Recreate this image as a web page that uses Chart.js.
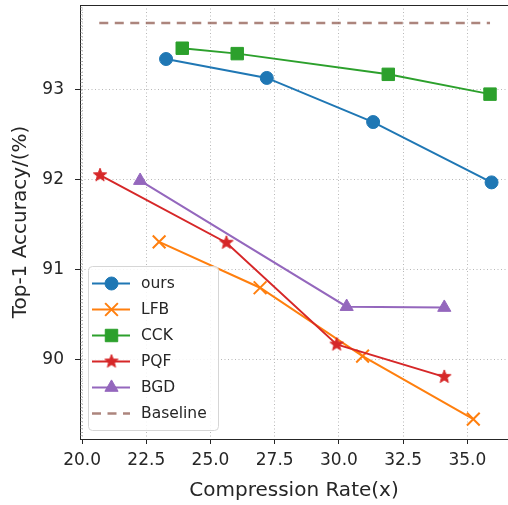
<!DOCTYPE html>
<html>
<head>
<meta charset="utf-8">
<script src="https://cdn.jsdelivr.net/npm/chart.js@4/dist/chart.umd.min.js"></script>
<style>
  html, body { margin: 0; padding: 0; background: #fff; }
  #wrap { width: 508px; height: 505px; position: relative; }
</style>
</head>
<body>
<div id="wrap"><canvas id="c" width="508" height="505"></canvas></div>
<script>
// ---- data ----
const seriesNames = ['ours', 'LFB', 'CCK', 'PQF', 'BGD', 'Baseline'];

const oursX = [23.27, 27.19, 31.33, 35.94];
const oursY = [93.34, 93.13, 92.64, 91.97];

const lfbX = [23.00, 26.93, 30.92, 35.23];
const lfbY = [91.31, 90.80, 90.04, 89.34];

const cckX = [23.90, 26.04, 31.92, 35.88];
const cckY = [93.46, 93.40, 93.17, 92.95];

const pqfX = [20.70, 25.62, 29.91, 34.10];
const pqfY = [92.05, 91.30, 90.17, 89.81];

const bgdX = [22.26, 30.30, 34.10];
const bgdY = [91.99, 90.59, 90.58];

const baselineX = [20.67, 35.88];
const baselineY = [93.74, 93.74];

const xTickValues = [20.0, 22.5, 25.0, 27.5, 30.0, 32.5, 35.0];
const xTickLabels = ['20.0', '22.5', '25.0', '27.5', '30.0', '32.5', '35.0'];
const yTickValues = [90, 91, 92, 93];
const yTickLabels = ['90', '91', '92', '93'];

const xTitle = 'Compression Rate(x)';
const yTitle = 'Top-1 Accuracy/(%)';

// ---- helpers ----
function pts(xs, ys) { return xs.map((x, i) => ({ x: x, y: ys[i] })); }

function makeStar(color, R) {
  const s = Math.ceil(R * 2 + 4);
  const c = document.createElement('canvas');
  c.width = s; c.height = s;
  const g = c.getContext('2d');
  const cx = s / 2, cy = s / 2, r = R * 0.42;
  g.beginPath();
  for (let k = 0; k < 10; k++) {
    const a = -Math.PI / 2 + k * Math.PI / 5;
    const rr = (k % 2 === 0) ? R : r;
    g.lineTo(cx + rr * Math.cos(a), cy + rr * Math.sin(a));
  }
  g.closePath();
  g.fillStyle = color; g.fill();
  g.strokeStyle = color; g.lineWidth = 1; g.stroke();
  return c;
}

const FONT = "'DejaVu Sans', 'Liberation Sans', sans-serif";
const C = {
  blue: '#1f77b4', orange: '#ff7f0e', green: '#2ca02c',
  red: '#d62728', purple: '#9467bd', brown: 'rgba(140,86,75,0.72)'
};
const starImg = makeStar(C.red, 7);

const datasets = [
  { label: seriesNames[0], data: pts(oursX, oursY), borderColor: C.blue, backgroundColor: C.blue,
    pointStyle: 'circle', pointRadius: 6.5, pointBorderWidth: 1, borderWidth: 2, order: 6 },
  { label: seriesNames[1], data: pts(lfbX, lfbY), borderColor: C.orange, backgroundColor: C.orange,
    pointStyle: 'crossRot', pointRadius: 9, pointBorderWidth: 2, borderWidth: 2, order: 5 },
  { label: seriesNames[2], data: pts(cckX, cckY), borderColor: C.green, backgroundColor: C.green,
    pointStyle: 'rect', pointRadius: 8.8, pointBorderWidth: 1, borderWidth: 2, order: 4 },
  { label: seriesNames[3], data: pts(pqfX, pqfY), borderColor: C.red, backgroundColor: C.red,
    pointStyle: starImg, pointRadius: 7, pointBorderWidth: 1, borderWidth: 2, order: 3 },
  { label: seriesNames[4], data: pts(bgdX, bgdY), borderColor: C.purple, backgroundColor: C.purple,
    pointStyle: 'triangle', pointRadius: 7.6, pointBorderWidth: 1, borderWidth: 2, order: 2 },
  { label: seriesNames[5], data: pts(baselineX, baselineY), borderColor: C.brown, backgroundColor: C.brown,
    pointStyle: 'circle', pointRadius: 0, borderWidth: 2.5, borderDash: [9, 6.5], order: 1 }
];
datasets.forEach(d => { d.showLine = true; d.tension = 0; d.fill = false; d.pointHoverRadius = d.pointRadius; });

// ---- plugins: frame (top spine), minor ticks, legend ----
const framePlugin = {
  id: 'frame',
  afterDraw(chart) {
    const { ctx, chartArea: a } = chart;
    ctx.save();
    ctx.strokeStyle = '#262626';
    ctx.lineWidth = 1;
    ctx.beginPath();
    ctx.moveTo(a.left, a.top + 0.5);
    ctx.lineTo(a.right, a.top + 0.5);
    ctx.stroke();
    // faint minor ticks inside the left spine
    const ys = chart.scales.y;
    ctx.strokeStyle = 'rgba(120,120,120,0.55)';
    ctx.lineWidth = 0.8;
    ctx.beginPath();
    for (let v = 89.16; v < ys.max; v += 0.04) {
      const py = Math.round(ys.getPixelForValue(v)) + 0.5;
      ctx.moveTo(a.left, py);
      ctx.lineTo(a.left + 2.5, py);
    }
    ctx.stroke();
    ctx.restore();
  }
};

const legendPlugin = {
  id: 'boxLegend',
  afterDatasetsDraw(chart) {
    const ctx = chart.ctx;
    const bx = 88.5, by = 266.5, bw = 130, bh = 164, r = 4;
    ctx.save();
    ctx.beginPath();
    ctx.moveTo(bx + r, by);
    ctx.arcTo(bx + bw, by, bx + bw, by + bh, r);
    ctx.arcTo(bx + bw, by + bh, bx, by + bh, r);
    ctx.arcTo(bx, by + bh, bx, by, r);
    ctx.arcTo(bx, by, bx + bw, by, r);
    ctx.closePath();
    ctx.fillStyle = 'rgba(255,255,255,0.85)';
    ctx.fill();
    ctx.strokeStyle = '#d6d6d6';
    ctx.lineWidth = 1;
    ctx.stroke();

    chart.data.datasets.forEach((d, i) => {
      const y = 283.5 + i * 26;
      ctx.save();
      ctx.strokeStyle = d.borderColor;
      ctx.lineWidth = d.borderWidth;
      ctx.setLineDash(d.borderDash || []);
      ctx.beginPath();
      ctx.moveTo(92, y);
      ctx.lineTo(130, y);
      ctx.stroke();
      ctx.setLineDash([]);
      if (d.pointRadius > 0) {
        ctx.fillStyle = d.backgroundColor;
        ctx.strokeStyle = d.borderColor;
        ctx.lineWidth = d.pointBorderWidth;
        Chart.helpers.drawPoint(ctx, { pointStyle: d.pointStyle, rotation: 0, radius: d.pointRadius, borderWidth: d.pointBorderWidth }, 111.5, y);
      }
      ctx.restore();
      ctx.fillStyle = '#262626';
      ctx.font = '15.5px ' + FONT;
      ctx.textBaseline = 'middle';
      ctx.textAlign = 'left';
      ctx.fillText(d.label, 141, y + 0.5);
    });
    ctx.restore();
  }
};

function noPad(s) { s.paddingTop = 0; s.paddingBottom = 0; s.paddingLeft = 0; s.paddingRight = 0; }

new Chart(document.getElementById('c'), {
  type: 'scatter',
  data: { datasets: datasets },
  plugins: [framePlugin, legendPlugin],
  options: {
    responsive: false,
    animation: false,
    events: [],
    layout: { autoPadding: false, padding: { top: 5, right: 0, left: 0, bottom: 0 } },
    plugins: { legend: { display: false }, tooltip: { enabled: false }, title: { display: false } },
    scales: {
      x: {
        type: 'linear',
        min: 19.92, max: 36.58,
        afterBuildTicks: (s) => { s.ticks = xTickValues.map(v => ({ value: v })); },
        afterFit: (s) => { s.height = 66; noPad(s); },
        ticks: {
          autoSkip: false, maxRotation: 0, padding: 6,
          color: '#262626', font: { family: FONT, size: 17 },
          callback: (v) => { const i = xTickValues.indexOf(v); return i >= 0 ? xTickLabels[i] : ''; }
        },
        grid: { color: '#b8b8b8', lineWidth: 1, tickLength: 5, tickColor: '#262626', tickWidth: 1 },
        border: { display: true, color: '#262626', width: 1, dash: [1, 2.5] },
        title: { display: true, text: xTitle, color: '#262626', font: { family: FONT, size: 20 }, padding: { top: 0, bottom: 2 } }
      },
      y: {
        type: 'linear',
        min: 89.12, max: 93.94,
        afterBuildTicks: (s) => { s.ticks = yTickValues.map(v => ({ value: v })); },
        afterFit: (s) => { s.width = 80; noPad(s); },
        ticks: {
          autoSkip: false, padding: 11,
          color: '#262626', font: { family: FONT, size: 17 },
          callback: (v) => { const i = yTickValues.indexOf(v); return i >= 0 ? yTickLabels[i] : ''; }
        },
        grid: { color: '#b8b8b8', lineWidth: 1, tickLength: 5, tickColor: '#262626', tickWidth: 1 },
        border: { display: true, color: '#262626', width: 1, dash: [1, 2.5] },
        title: { display: true, text: yTitle, color: '#262626', font: { family: FONT, size: 20 }, padding: { top: 9, bottom: 0 } }
      }
    }
  }
});
</script>
</body>
</html>
